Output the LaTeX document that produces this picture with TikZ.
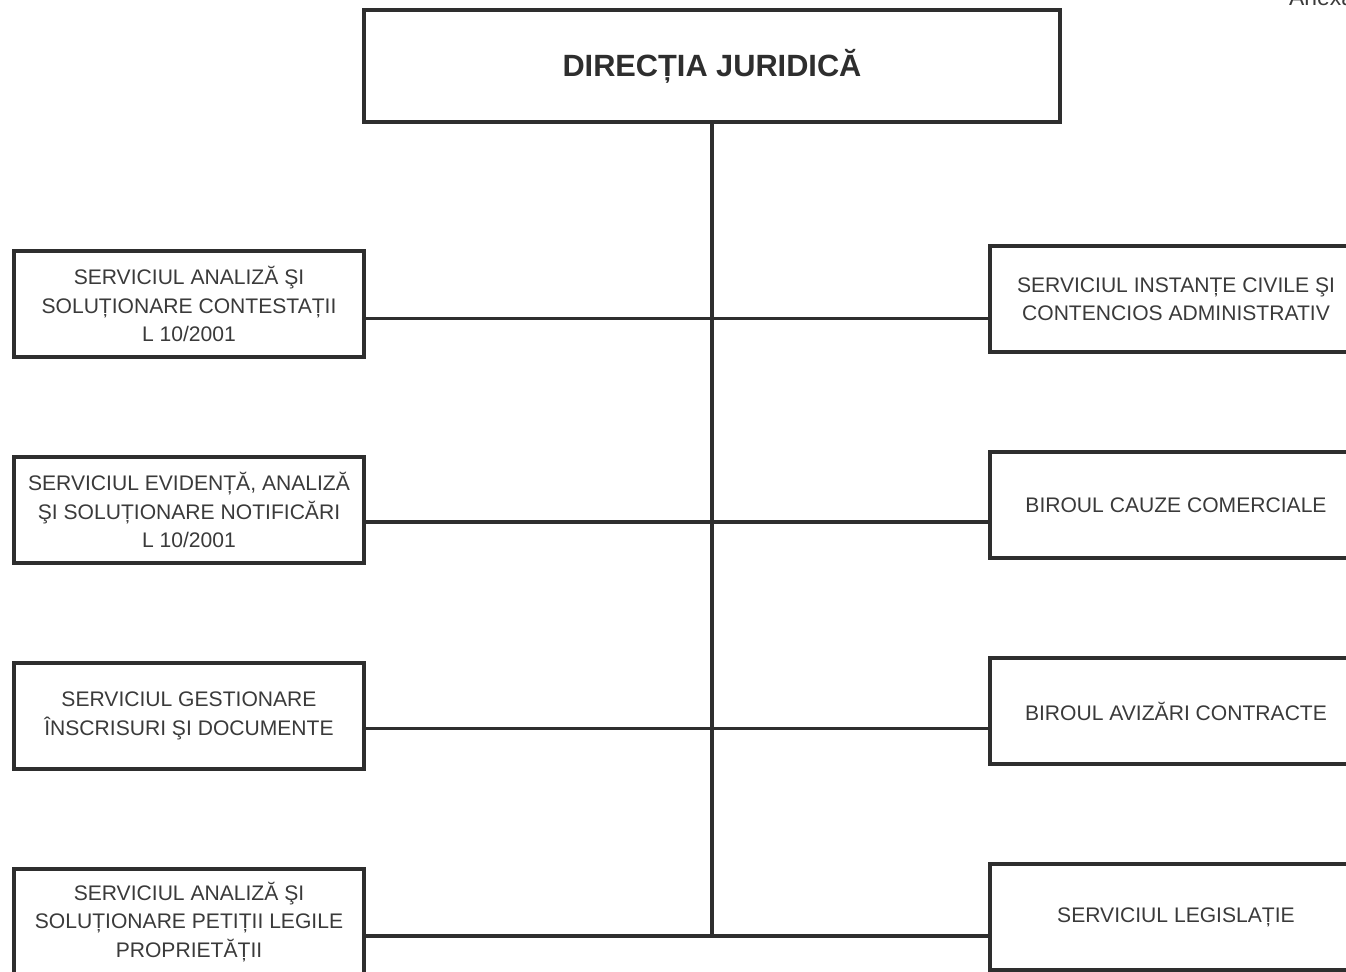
\documentclass[tikz,border=0pt]{standalone}
\usepackage{fontspec}
\setmainfont{Liberation Sans}
\usepackage{tikz}
\usetikzlibrary{positioning}

\definecolor{ink}{HTML}{2E2E2E}
\definecolor{inktext}{HTML}{3A3A3A}

\tikzset{
  unit/.style={draw=ink, line width=2pt, outer sep=0pt, align=center,
    minimum width=7cm, minimum height=2.12cm, text=inktext,
    font=\fontsize{12}{16.2}\selectfont},
  rightunit/.style={unit, minimum width=7.44cm},
  head/.style={unit, minimum width=13.92cm, minimum height=2.24cm, text=ink,
    font=\fontsize{17.5}{21}\selectfont\bfseries},
  link/.style={draw=ink, line width=2pt}
}

\begin{document}
\begin{tikzpicture}
   \useasboundingbox (0,0) rectangle (26.92,-19.44);
   \node[anchor=base west, text=inktext, font=\fontsize{13}{15}\selectfont] (anexa) at (25.66,-0.12) {Anexa};
   \node[head] (dj) at (14.24,-1.32) {DIRECȚIA JURIDICĂ};
   % left column
   \node[unit] (sc) at (3.78,-6.08) {SERVICIUL ANALIZĂ ŞI\\SOLUȚIONARE CONTESTAȚII\\L 10/2001};
   \node[unit] (sn) [below=2cm of sc] {SERVICIUL EVIDENȚĂ, ANALIZĂ\\ŞI SOLUȚIONARE NOTIFICĂRI\\L 10/2001};
   \node[unit] (sg) [below=2cm of sn] {SERVICIUL GESTIONARE\\ÎNSCRISURI ŞI DOCUMENTE};
   \node[unit] (sp) [below=2cm of sg] {SERVICIUL ANALIZĂ ŞI\\SOLUȚIONARE PETIȚII LEGILE\\PROPRIETĂȚII};
   % right column
   \node[rightunit] (si) at (23.52,-5.98) {SERVICIUL INSTANȚE CIVILE ŞI\\CONTENCIOS ADMINISTRATIV};
   \node[rightunit] (bc) [below=2cm of si] {BIROUL CAUZE COMERCIALE};
   \node[rightunit] (ba) [below=2cm of bc] {BIROUL AVIZĂRI CONTRACTE};
   \node[rightunit] (sl) [below=2cm of ba] {SERVICIUL LEGISLAȚIE};
   % joints on the trunk
   \coordinate (j1) at (14.24,-6.37);
   \coordinate (j2) at (14.24,-10.44);
   \coordinate (j3) at (14.24,-14.57);
   \coordinate (j4) at (14.24,-18.72);
   \draw[link] (dj.south) -- (j4);
   \draw[link] (sc.east |- j1) -- (j1) -- (si.west |- j1);
   \draw[link] (sn.east |- j2) -- (j2) -- (bc.west |- j2);
   \draw[link] (sg.east |- j3) -- (j3) -- (ba.west |- j3);
   \draw[link] (sp.east |- j4) -- (j4) -- (sl.west |- j4);
\end{tikzpicture}
\end{document}
